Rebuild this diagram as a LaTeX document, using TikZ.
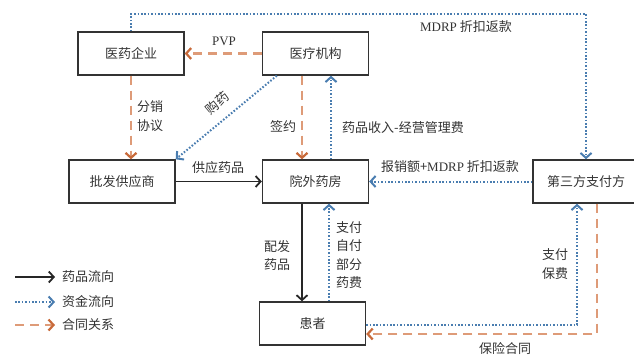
\documentclass[tikz,border=0pt]{standalone}
\usepackage{fontspec}
\setmainfont{Liberation Serif}
\newfontfamily\cjk{Noto Sans CJK SC}
\usetikzlibrary{arrows.meta,calc}
\definecolor{orgline}{HTML}{DE9B78}
\definecolor{orghead}{HTML}{C86A3A}
\definecolor{bluline}{HTML}{4A7DB0}
\definecolor{txtc}{HTML}{333333}
\newcommand{\lat}[1]{{\rmfamily #1}}
\begin{document}
\begin{tikzpicture}[x=1pt,y=-1pt,
  every node/.style={font=\cjk\fontsize{13}{18.5}\selectfont, text=txtc},
  box/.style={draw=txtc, line width=1.4pt, minimum width=106pt, minimum height=43pt, inner sep=0pt},
  lbl/.style={inner sep=0pt, align=left},
  drug/.style={line width=1.8pt, draw=black!85, -{Straight Barb[length=5pt,width=11pt,line width=1.8pt]}},
  money/.style={line width=2pt, draw=bluline, dash pattern=on 1.6pt off 1.8pt, -{Straight Barb[length=5pt,width=11pt,line width=2pt,color=bluline]}},
  contract/.style={line width=2.6pt, draw=orgline, dash pattern=on 9pt off 6pt, -{Straight Barb[length=5pt,width=11pt,line width=2.2pt,color=orghead]}}
]
\useasboundingbox (0,0) rectangle (634,356);

% boxes
\node[box] (qy) at (131,53.5) {医药企业};
\node[box] (yl) at (315.5,53.5) {医疗机构};
\node[box] (pf) at (122,181.5) {批发供应商};
\node[box] (yf) at (315.5,181.5) {院外药房};
\node[box] (sf) at (586,181.5) {第三方支付方};
\node[box] (hz) at (312.5,323.5) {患者};

% contract arrows
\draw[contract] (yl.west) -- (qy.east);
\draw[contract] (qy.south) -- (qy.south |- pf.north);
\draw[contract] ($(yl.south)+(-13.5,0)$) -- ($(yf.north)+(-13.5,0)$);
\coordinate (c1) at ($(sf.south)+(11,0)$);
\coordinate (c2) at ($(hz.east)+(0,10.5)$);
\draw[contract] (c1) |- (c2);

% money arrows
\coordinate (tp) at (0,14);
\draw[money] (qy.north) -- (qy.north |- tp) -| (sf.north);
\draw[money] ($(yl.south west)+(15,0)$) -- (pf.north east);
\draw[money] ($(yf.north)+(15.5,0)$) -- ($(yl.south)+(15.5,0)$);
\draw[money] (sf.west) -- (yf.east);
\draw[money] ($(hz.north)+(16.5,0)$) -- ($(yf.south)+(13.5,0)$);
\coordinate (m1) at ($(hz.east)+(0,1.5)$);
\coordinate (m2) at ($(sf.south)+(-9,0)$);
\draw[money] (m1) -| (m2);

% drug arrows
\draw[drug] (pf.east) -- (yf.west);
\draw[drug] ($(yf.south)+(-13.5,0)$) -- ($(hz.north)+(-10.5,0)$);

% labels
\node[lbl] (l1) at (224,41) {\lat{PVP}};
\node[lbl, anchor=west] (l2) at (137,116) {分销\\协议};
\node[lbl, rotate=40] (l3) at (217,103) {购药};
\node[lbl] (l4) at (283,127) {签约};
\node[lbl] (l5) at (403,128) {药品收入-经营管理费};
\node[lbl] (l6) at (218,168) {供应药品};
\node[lbl] (l7) at (450,167) {报销额+\lat{MDRP} 折扣返款};
\node[lbl] (l8) at (466,27) {\lat{MDRP} 折扣返款};
\node[lbl] (l9) at (277,255.5) {配发\\药品};
\node[lbl] (l10) at (349,255) {支付\\自付\\部分\\药费};
\node[lbl] (l11) at (555,264) {支付\\保费};
\node[lbl] (l12) at (505,349) {保险合同};

% legend
\coordinate (a1) at (15,277);
\coordinate (b1) at (55,277);
\coordinate (a2) at (15,302);
\coordinate (b2) at (55,302);
\coordinate (a3) at (15,325);
\coordinate (b3) at (55,325);
\draw[drug] (a1) -- (b1);
\draw[money] (a2) -- (b2);
\draw[contract] (a3) -- (b3);
\node[lbl, anchor=west] (g1) at (62,277) {药品流向};
\node[lbl, anchor=west] (g2) at (62,302) {资金流向};
\node[lbl, anchor=west] (g3) at (62,325) {合同关系};
\end{tikzpicture}
\end{document}
